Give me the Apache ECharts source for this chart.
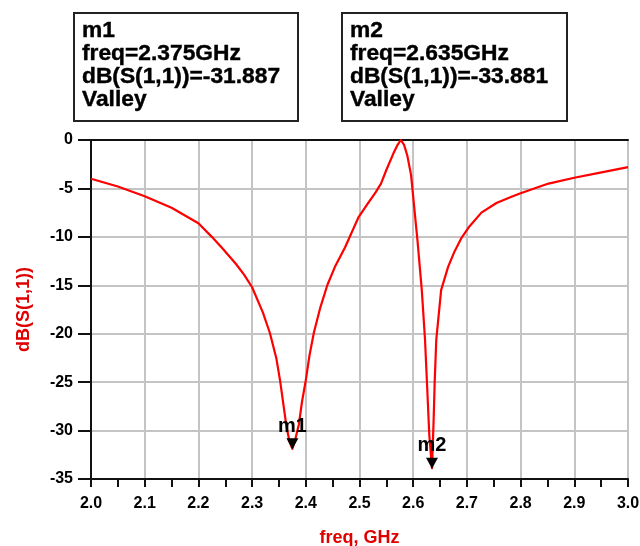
<!DOCTYPE html>
<html><head><meta charset="utf-8">
<script src="https://cdn.jsdelivr.net/npm/echarts@6/dist/echarts.min.js"></script>
<style>html,body{margin:0;padding:0;background:#fff}#c{width:640px;height:546px}</style>
</head><body><div id="c"></div>
<script>
var freq = [2.00,2.05,2.10,2.15,2.20,2.225,2.245,2.27,2.285,2.30,2.32,2.333,2.345,2.352,2.358,2.364,2.370,2.375,2.380,2.387,2.393,2.400,2.407,2.415,2.427,2.440,2.455,2.473,2.485,2.498,2.515,2.530,2.540,2.550,2.563,2.571,2.577,2.583,2.589,2.596,2.602,2.608,2.616,2.622,2.626,2.630,2.635,2.638,2.640,2.643,2.652,2.665,2.677,2.690,2.705,2.727,2.755,2.783,2.80,2.852,2.90,2.946,3.00];
var s11 = [-4.0,-4.8,-5.8,-7.0,-8.6,-10.0,-11.2,-12.8,-13.9,-15.2,-17.8,-19.9,-22.5,-24.8,-27.2,-29.6,-31.2,-31.887,-31.0,-29.4,-27.0,-24.8,-22.2,-19.9,-17.3,-15.0,-13.0,-11.1,-9.6,-8.0,-6.6,-5.4,-4.5,-3.1,-1.4,-0.5,0.0,-0.5,-1.6,-3.6,-7.0,-10.4,-15.5,-20.6,-25.5,-30.5,-33.881,-29.0,-25.0,-20.6,-15.5,-13.1,-11.5,-10.1,-8.9,-7.5,-6.5,-5.85,-5.5,-4.5,-3.9,-3.4,-2.8];
var markerNames = ['m1','m2'];
var markerFreq = [2.375, 2.635];
var markerVal = [-31.887, -33.881];
var markerText = [
  ['m1','freq=2.375GHz','dB(S(1,1))=-31.887','Valley'],
  ['m2','freq=2.635GHz','dB(S(1,1))=-33.881','Valley']
];

var FONT = '"Liberation Sans", Arial, Helvetica, sans-serif';
var chart = echarts.init(document.getElementById('c'));
var data = freq.map(function(f,i){return [f, s11[i]];});
var boxes = [[73,12,224,108],[341,12,225,108]];
var graphic = [];
boxes.forEach(function(b,i){
  graphic.push({type:'rect', left:b[0], top:b[1], shape:{width:b[2], height:b[3]}, style:{fill:'rgba(255,255,255,0)', stroke:'#222', lineWidth:2}});
  graphic.push({type:'text', x:b[0]+9, y:b[1]+7, scaleX:1.035, style:{text:markerText[i].join('\n'), font:'bold 22px '+FONT, lineHeight:23, fill:'#000', stroke:'#000', lineWidth:0.4}});
});
chart.setOption({
  animation:false,
  backgroundColor:'#fff',
  grid:{left:91, right:12, top:140, bottom:67, outerBoundsMode:'none', containLabel:false},
  graphic: graphic,
  xAxis:[{
    type:'value', min:2.0, max:3.0, interval:0.1,
    name:'freq, GHz', nameLocation:'middle', nameGap:50,
    nameTextStyle:{color:'#e00000', fontWeight:'bold', fontSize:18, fontFamily:FONT},
    axisLine:{show:true, onZero:false, lineStyle:{color:'#111', width:2}},
    axisTick:{show:true, length:8, lineStyle:{color:'#111', width:2}},
    minorTick:{show:true, splitNumber:2, length:8, lineStyle:{color:'#111', width:2}},
    axisLabel:{color:'#000', fontWeight:'bold', fontSize:16, fontFamily:FONT, margin:17, formatter:function(v){return v.toFixed(1);}},
    splitLine:{show:true, lineStyle:{color:'#c4c4c4', width:2}}
  },{
    type:'value', min:2.0, max:3.0, position:'top',
    axisLine:{show:true, onZero:false, lineStyle:{color:'#111', width:2}},
    axisTick:{show:false}, axisLabel:{show:false}, splitLine:{show:false}
  }],
  yAxis:{
    type:'value', min:-35, max:0, interval:5,
    name:'dB(S(1,1))', nameLocation:'middle', nameGap:58,
    nameTextStyle:{color:'#e00000', fontWeight:'bold', fontSize:18, fontFamily:FONT},
    axisLine:{show:true, onZero:false, lineStyle:{color:'#111', width:2}},
    axisTick:{show:true, length:13, lineStyle:{color:'#111', width:2}},
    axisLabel:{color:'#000', fontWeight:'bold', fontSize:16, fontFamily:FONT, margin:18},
    splitLine:{show:true, lineStyle:{color:'#c4c4c4', width:2}}
  },
  series:[{
    type:'line', data:data, showSymbol:false, symbol:'none',
    lineStyle:{color:'#ff0000', width:2.2, join:'round'},
    markPoint:{
      symbol:'triangle', symbolSize:[12,11], symbolRotate:180, symbolOffset:[0,-5],
      itemStyle:{color:'#000'},
      label:{show:true, position:'top', distance:2, color:'#000', fontWeight:'bold', fontSize:20, fontFamily:FONT, formatter:function(p){return p.name;}},
      data: markerNames.map(function(n,i){return {name:n, coord:[markerFreq[i], markerVal[i]]};})
    }
  }]
});
</script></body></html>
